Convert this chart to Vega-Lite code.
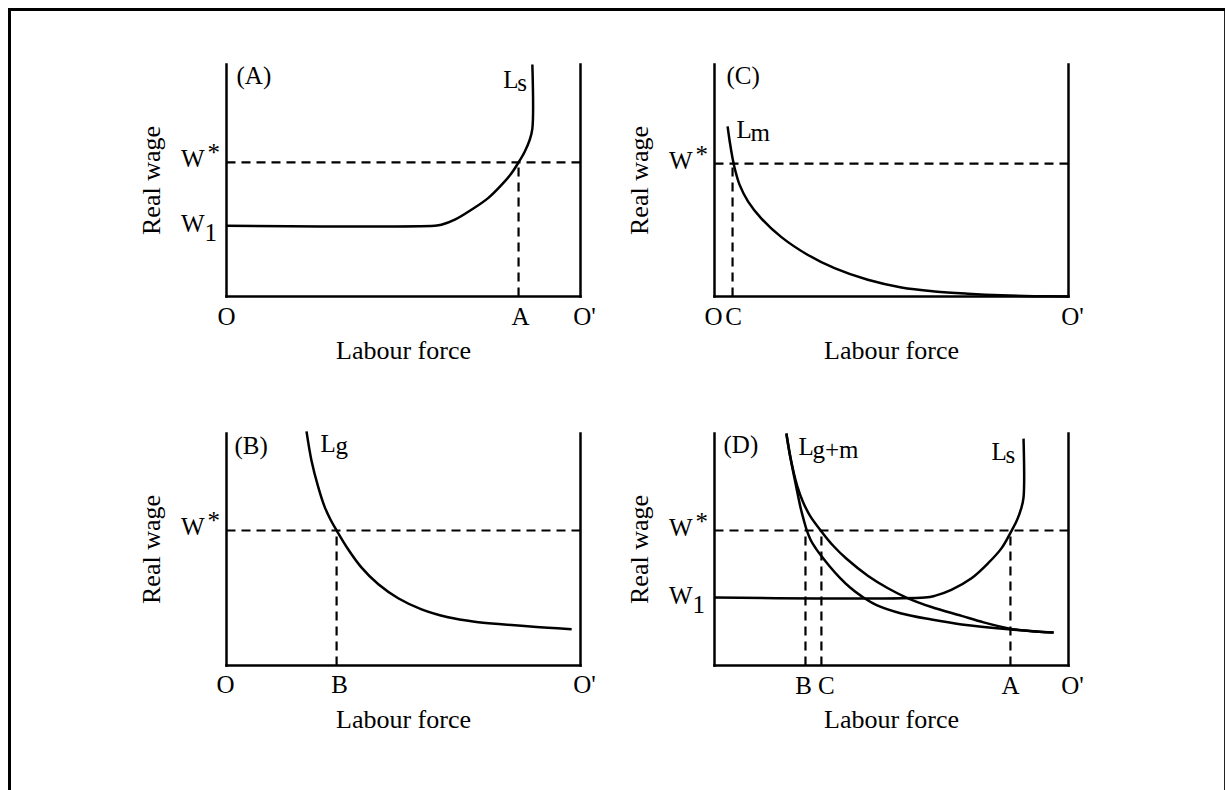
{
  "$schema": "https://vega.github.io/schema/vega-lite/v6.json",
  "padding": {"left": 6.5, "top": 6.5, "right": 0, "bottom": 0},
  "background": "white",
  "config": {
    "view": {"stroke": null},
    "axis": {"disable": true},
    "text": {"font": "Liberation Serif", "fontSize": 25, "baseline": "alphabetic", "color": "black"},
    "rule": {"color": "black", "strokeWidth": 2.5, "strokeCap": "square"},
    "line": {"color": "black", "strokeWidth": 2.5, "interpolate": "catmull-rom"}
  },
  "columns": 2,
  "spacing": {"row": 137, "column": 134},
  "bounds": "flush",
  "concat": [
        {
          "width": 354, "height": 232,
          "data": {"values": [{}]},
          "layer": [
            {
              "data": {"values": [
                {"x": 0, "y": 30.5}, {"x": 58.8, "y": 30.5}, {"x": 60.7, "y": 30.9}, {"x": 64.5, "y": 33.1},
                {"x": 69.2, "y": 37.4}, {"x": 73.9, "y": 42.4}, {"x": 77.7, "y": 48.1}, {"x": 80.5, "y": 53.1},
                {"x": 82.5, "y": 57.8}, {"x": 84.2, "y": 62.3}, {"x": 85.6, "y": 67.3}, {"x": 86.4, "y": 72.4},
                {"x": 86.4, "y": 100}
              ]},
              "mark": {"type": "line"},
              "encoding": {
                "x": {"field": "x", "type": "quantitative", "scale": {"domain": [0, 100]}},
                "y": {"field": "y", "type": "quantitative", "scale": {"domain": [0, 100]}},
                "order": {"value": null}
              }
            },
            {"mark": {"type": "rule", "strokeWidth": 3}, "encoding": {"x": {"datum": -61.3}, "x2": {"datum": 282.1}, "y": {"datum": 123.7}}},
            {"mark": {"type": "rule", "strokeWidth": 3}, "encoding": {"x": {"datum": -61.3}, "y": {"datum": 123.7}, "y2": {"datum": -213.4}}},
            {"mark": {"type": "rule", "strokeWidth": 2}, "encoding": {"x": {"datum": 282.1}, "y": {"datum": 123.7}, "y2": {"datum": -213.4}}},
            {"mark": "rule", "encoding": {"x": {"datum": 0}, "y": {"datum": 0}, "y2": {"datum": 100}}},
            {"mark": "rule", "encoding": {"x": {"datum": 100}, "y": {"datum": 0}, "y2": {"datum": 100}}},
            {"mark": "rule", "encoding": {"x": {"datum": 0}, "x2": {"datum": 100}, "y": {"datum": 0}}},
            {"mark": {"type": "rule", "strokeDash": [9, 6], "strokeWidth": 2.2, "strokeCap": "butt"}, "encoding": {"x": {"datum": 0}, "x2": {"datum": 100}, "y": {"datum": 57.8}}},
            {"mark": {"type": "rule", "strokeDash": [9, 6], "strokeWidth": 2.2, "strokeCap": "butt"}, "encoding": {"x": {"datum": 82.5}, "y": {"datum": 0}, "y2": {"datum": 57.8}}},
            {"mark": {"type": "text", "align": "left", "dx": 10, "dy": 19}, "encoding": {"x": {"datum": 0}, "y": {"datum": 100}, "text": {"value": "(A)"}}},
            {"mark": {"type": "text", "align": "left", "dx": -29, "dy": 23}, "encoding": {"x": {"datum": 86.4}, "y": {"datum": 100}, "text": {"value": "L"}}},
            {"mark": {"type": "text", "align": "left", "dx": -15, "dy": 26}, "encoding": {"x": {"datum": 86.4}, "y": {"datum": 100}, "text": {"value": "s"}}},
            {"mark": {"type": "text", "align": "right", "dx": -22, "dy": 5}, "encoding": {"x": {"datum": 0}, "y": {"datum": 57.8}, "text": {"value": "W"}}},
            {"mark": {"type": "text", "align": "left", "dx": -19, "dy": -1}, "encoding": {"x": {"datum": 0}, "y": {"datum": 57.8}, "text": {"value": "*"}}},
            {"mark": {"type": "text", "align": "right", "dx": -22, "dy": 6}, "encoding": {"x": {"datum": 0}, "y": {"datum": 30.5}, "text": {"value": "W"}}},
            {"mark": {"type": "text", "align": "left", "dx": -22, "dy": 15}, "encoding": {"x": {"datum": 0}, "y": {"datum": 30.5}, "text": {"value": "1"}}},
            {"mark": {"type": "text", "align": "center", "angle": 270, "dy": -67, "fontSize": 26}, "encoding": {"x": {"datum": 0}, "y": {"datum": 50}, "text": {"value": "Real wage"}}},
            {"mark": {"type": "text", "align": "center", "dy": 62, "fontSize": 26}, "encoding": {"x": {"datum": 50}, "y": {"datum": 0}, "text": {"value": "Labour force"}}},
            {"mark": {"type": "text", "align": "center", "dy": 28}, "encoding": {"x": {"datum": 0}, "y": {"datum": 0}, "text": {"value": "O"}}},
            {"mark": {"type": "text", "align": "center", "dx": 2, "dy": 28}, "encoding": {"x": {"datum": 82.5}, "y": {"datum": 0}, "text": {"value": "A"}}},
            {"mark": {"type": "text", "align": "center", "dx": 4, "dy": 28}, "encoding": {"x": {"datum": 100}, "y": {"datum": 0}, "text": {"value": "O'"}}}
          ]
        },
        {
          "width": 354, "height": 232,
          "data": {"values": [{}]},
          "layer": [
            {
              "data": {"values": [
                {"x": 3.7, "y": 73.3}, {"x": 4.3, "y": 66.8}, {"x": 5.1, "y": 59.6}, {"x": 5.7, "y": 55.3},
                {"x": 7.1, "y": 48.1}, {"x": 9.5, "y": 40.9}, {"x": 13.2, "y": 33.7}, {"x": 18.9, "y": 25.6},
                {"x": 26.4, "y": 17.9}, {"x": 33.9, "y": 12.2}, {"x": 43.3, "y": 7.2}, {"x": 52.8, "y": 3.9},
                {"x": 62.2, "y": 2.2}, {"x": 71.6, "y": 1.2}, {"x": 81, "y": 0.5}, {"x": 90.4, "y": 0.15},
                {"x": 99.9, "y": 0}
              ]},
              "mark": {"type": "line"},
              "encoding": {
                "x": {"field": "x", "type": "quantitative", "scale": {"domain": [0, 100]}},
                "y": {"field": "y", "type": "quantitative", "scale": {"domain": [0, 100]}},
                "order": {"value": null}
              }
            },
            {"mark": "rule", "encoding": {"x": {"datum": 0}, "y": {"datum": 0}, "y2": {"datum": 100}}},
            {"mark": "rule", "encoding": {"x": {"datum": 100}, "y": {"datum": 0}, "y2": {"datum": 100}}},
            {"mark": "rule", "encoding": {"x": {"datum": 0}, "x2": {"datum": 100}, "y": {"datum": 0}}},
            {"mark": {"type": "rule", "strokeDash": [9, 6], "strokeWidth": 2.2, "strokeCap": "butt"}, "encoding": {"x": {"datum": 0}, "x2": {"datum": 100}, "y": {"datum": 57.3}}},
            {"mark": {"type": "rule", "strokeDash": [9, 6], "strokeWidth": 2.2, "strokeCap": "butt"}, "encoding": {"x": {"datum": 5.1}, "y": {"datum": 0}, "y2": {"datum": 57.3}}},
            {"mark": {"type": "text", "align": "left", "dx": 12, "dy": 19}, "encoding": {"x": {"datum": 0}, "y": {"datum": 100}, "text": {"value": "(C)"}}},
            {"mark": {"type": "text", "align": "left", "dx": 22, "dy": 73}, "encoding": {"x": {"datum": 0}, "y": {"datum": 100}, "text": {"value": "L"}}},
            {"mark": {"type": "text", "align": "left", "dx": 36, "dy": 76}, "encoding": {"x": {"datum": 0}, "y": {"datum": 100}, "text": {"value": "m"}}},
            {"mark": {"type": "text", "align": "right", "dx": -22, "dy": 5}, "encoding": {"x": {"datum": 0}, "y": {"datum": 57.3}, "text": {"value": "W"}}},
            {"mark": {"type": "text", "align": "left", "dx": -19, "dy": -1}, "encoding": {"x": {"datum": 0}, "y": {"datum": 57.3}, "text": {"value": "*"}}},
            {"mark": {"type": "text", "align": "center", "angle": 270, "dy": -67, "fontSize": 26}, "encoding": {"x": {"datum": 0}, "y": {"datum": 50}, "text": {"value": "Real wage"}}},
            {"mark": {"type": "text", "align": "center", "dy": 62, "fontSize": 26}, "encoding": {"x": {"datum": 50}, "y": {"datum": 0}, "text": {"value": "Labour force"}}},
            {"mark": {"type": "text", "align": "center", "dx": -1, "dy": 28}, "encoding": {"x": {"datum": 0}, "y": {"datum": 0}, "text": {"value": "O"}}},
            {"mark": {"type": "text", "align": "center", "dx": 1, "dy": 28}, "encoding": {"x": {"datum": 5.1}, "y": {"datum": 0}, "text": {"value": "C"}}},
            {"mark": {"type": "text", "align": "center", "dx": 4, "dy": 28}, "encoding": {"x": {"datum": 100}, "y": {"datum": 0}, "text": {"value": "O'"}}}
          ]
        },
        {
          "width": 354, "height": 232,
          "data": {"values": [{}]},
          "layer": [
            {
              "data": {"values": [
                {"x": 22.6, "y": 100.9}, {"x": 24.0, "y": 88.4}, {"x": 25.9, "y": 77.0}, {"x": 27.7, "y": 68.5},
                {"x": 29.4, "y": 62.8}, {"x": 31.1, "y": 58.2}, {"x": 34.4, "y": 50.0}, {"x": 38.1, "y": 42.3},
                {"x": 42.9, "y": 35.0}, {"x": 48.5, "y": 29.0}, {"x": 55.1, "y": 24.2}, {"x": 62.6, "y": 20.8},
                {"x": 70.1, "y": 18.9}, {"x": 77.7, "y": 17.8}, {"x": 83.3, "y": 17.1}, {"x": 90.8, "y": 16.3},
                {"x": 97.5, "y": 15.6}
              ]},
              "mark": {"type": "line"},
              "encoding": {
                "x": {"field": "x", "type": "quantitative", "scale": {"domain": [0, 100]}},
                "y": {"field": "y", "type": "quantitative", "scale": {"domain": [0, 100]}},
                "order": {"value": null}
              }
            },
            {"mark": "rule", "encoding": {"x": {"datum": 0}, "y": {"datum": 0}, "y2": {"datum": 100}}},
            {"mark": "rule", "encoding": {"x": {"datum": 100}, "y": {"datum": 0}, "y2": {"datum": 100}}},
            {"mark": "rule", "encoding": {"x": {"datum": 0}, "x2": {"datum": 100}, "y": {"datum": 0}}},
            {"mark": {"type": "rule", "strokeDash": [9, 6], "strokeWidth": 2.2, "strokeCap": "butt"}, "encoding": {"x": {"datum": 0}, "x2": {"datum": 100}, "y": {"datum": 58.2}}},
            {"mark": {"type": "rule", "strokeDash": [9, 6], "strokeWidth": 2.2, "strokeCap": "butt"}, "encoding": {"x": {"datum": 31.1}, "y": {"datum": 0}, "y2": {"datum": 58.2}}},
            {"mark": {"type": "text", "align": "left", "dx": 8, "dy": 20}, "encoding": {"x": {"datum": 0}, "y": {"datum": 100}, "text": {"value": "(B)"}}},
            {"mark": {"type": "text", "align": "left", "dx": 94, "dy": 18}, "encoding": {"x": {"datum": 0}, "y": {"datum": 100}, "text": {"value": "L"}}},
            {"mark": {"type": "text", "align": "left", "dx": 109, "dy": 20}, "encoding": {"x": {"datum": 0}, "y": {"datum": 100}, "text": {"value": "g"}}},
            {"mark": {"type": "text", "align": "right", "dx": -22, "dy": 5}, "encoding": {"x": {"datum": 0}, "y": {"datum": 58.2}, "text": {"value": "W"}}},
            {"mark": {"type": "text", "align": "left", "dx": -19, "dy": -1}, "encoding": {"x": {"datum": 0}, "y": {"datum": 58.2}, "text": {"value": "*"}}},
            {"mark": {"type": "text", "align": "center", "angle": 270, "dy": -67, "fontSize": 26}, "encoding": {"x": {"datum": 0}, "y": {"datum": 50}, "text": {"value": "Real wage"}}},
            {"mark": {"type": "text", "align": "center", "dy": 62, "fontSize": 26}, "encoding": {"x": {"datum": 50}, "y": {"datum": 0}, "text": {"value": "Labour force"}}},
            {"mark": {"type": "text", "align": "center", "dx": -1, "dy": 27}, "encoding": {"x": {"datum": 0}, "y": {"datum": 0}, "text": {"value": "O"}}},
            {"mark": {"type": "text", "align": "center", "dx": 3, "dy": 27}, "encoding": {"x": {"datum": 31.1}, "y": {"datum": 0}, "text": {"value": "B"}}},
            {"mark": {"type": "text", "align": "center", "dx": 4, "dy": 27}, "encoding": {"x": {"datum": 100}, "y": {"datum": 0}, "text": {"value": "O'"}}}
          ]
        },
        {
          "width": 354, "height": 232,
          "data": {"values": [{}]},
          "layer": [
            {
              "data": {"values": [
                {"curve": "Ls", "x": 0, "y": 29.3}, {"curve": "Ls", "x": 59.4, "y": 29.3}, {"curve": "Ls", "x": 62.2, "y": 30.0},
                {"curve": "Ls", "x": 66.9, "y": 32.6}, {"curve": "Ls", "x": 72.6, "y": 37.6}, {"curve": "Ls", "x": 77.3, "y": 44.1},
                {"curve": "Ls", "x": 81.1, "y": 50.6}, {"curve": "Ls", "x": 83.6, "y": 57.2}, {"curve": "Ls", "x": 85.4, "y": 62.5},
                {"curve": "Ls", "x": 86.6, "y": 67.5}, {"curve": "Ls", "x": 87.3, "y": 72.5}, {"curve": "Ls", "x": 87.3, "y": 97.8},
                {"curve": "Lg", "x": 20.3, "y": 100}, {"curve": "Lg", "x": 21.5, "y": 89.2}, {"curve": "Lg", "x": 22.9, "y": 78.4},
                {"curve": "Lg", "x": 24.3, "y": 68.1}, {"curve": "Lg", "x": 25.2, "y": 62.8}, {"curve": "Lg", "x": 26.0, "y": 58.6},
                {"curve": "Lg", "x": 27.2, "y": 54.0}, {"curve": "Lg", "x": 28.6, "y": 50.5}, {"curve": "Lg", "x": 30.2, "y": 47.2},
                {"curve": "Lg", "x": 32.5, "y": 42.8}, {"curve": "Lg", "x": 35.3, "y": 38.0}, {"curve": "Lg", "x": 38.3, "y": 33.6},
                {"curve": "Lg", "x": 41.5, "y": 29.9}, {"curve": "Lg", "x": 45.8, "y": 26.0}, {"curve": "Lg", "x": 52.8, "y": 22.4},
                {"curve": "Lg", "x": 61.3, "y": 19.8}, {"curve": "Lg", "x": 69.8, "y": 17.7}, {"curve": "Lg", "x": 83.1, "y": 15.6},
                {"curve": "Lg", "x": 95.8, "y": 14.2},
                {"curve": "Lg+m", "x": 20.3, "y": 100}, {"curve": "Lg+m", "x": 21.5, "y": 89.2}, {"curve": "Lg+m", "x": 23.4, "y": 77.2},
                {"curve": "Lg+m", "x": 25.0, "y": 70.5}, {"curve": "Lg+m", "x": 27.0, "y": 64.5}, {"curve": "Lg+m", "x": 30.2, "y": 57.8},
                {"curve": "Lg+m", "x": 33.6, "y": 51.5}, {"curve": "Lg+m", "x": 37.3, "y": 46.0}, {"curve": "Lg+m", "x": 43.4, "y": 38.6},
                {"curve": "Lg+m", "x": 49.0, "y": 33.3}, {"curve": "Lg+m", "x": 54.2, "y": 29.3}, {"curve": "Lg+m", "x": 61.3, "y": 25.2},
                {"curve": "Lg+m", "x": 69.8, "y": 21.4}, {"curve": "Lg+m", "x": 76.0, "y": 18.6}, {"curve": "Lg+m", "x": 83.1, "y": 16.0},
                {"curve": "Lg+m", "x": 89.0, "y": 14.9}, {"curve": "Lg+m", "x": 95.8, "y": 14.2}
              ]},
              "mark": {"type": "line"},
              "encoding": {
                "x": {"field": "x", "type": "quantitative", "scale": {"domain": [0, 100]}},
                "y": {"field": "y", "type": "quantitative", "scale": {"domain": [0, 100]}},
                "detail": {"field": "curve", "type": "nominal"},
                "order": {"value": null}
              }
            },
            {"mark": "rule", "encoding": {"x": {"datum": 0}, "y": {"datum": 0}, "y2": {"datum": 100}}},
            {"mark": "rule", "encoding": {"x": {"datum": 100}, "y": {"datum": 0}, "y2": {"datum": 100}}},
            {"mark": "rule", "encoding": {"x": {"datum": 0}, "x2": {"datum": 100}, "y": {"datum": 0}}},
            {"mark": {"type": "rule", "strokeDash": [9, 6], "strokeWidth": 2.2, "strokeCap": "butt"}, "encoding": {"x": {"datum": 0}, "x2": {"datum": 100}, "y": {"datum": 58.2}}},
            {"mark": {"type": "rule", "strokeDash": [9, 6], "strokeWidth": 2.2, "strokeCap": "butt"}, "encoding": {"x": {"datum": 25.7}, "y": {"datum": 0}, "y2": {"datum": 58.2}}},
            {"mark": {"type": "rule", "strokeDash": [9, 6], "strokeWidth": 2.2, "strokeCap": "butt"}, "encoding": {"x": {"datum": 30.2}, "y": {"datum": 0}, "y2": {"datum": 58.2}}},
            {"mark": {"type": "rule", "strokeDash": [9, 6], "strokeWidth": 2.2, "strokeCap": "butt"}, "encoding": {"x": {"datum": 83.6}, "y": {"datum": 0}, "y2": {"datum": 58.2}}},
            {"mark": {"type": "text", "align": "left", "dx": 9, "dy": 19}, "encoding": {"x": {"datum": 0}, "y": {"datum": 100}, "text": {"value": "(D)"}}},
            {"mark": {"type": "text", "align": "left", "dx": 84, "dy": 21}, "encoding": {"x": {"datum": 0}, "y": {"datum": 100}, "text": {"value": "L"}}},
            {"mark": {"type": "text", "align": "left", "dx": 98, "dy": 24}, "encoding": {"x": {"datum": 0}, "y": {"datum": 100}, "text": {"value": "g+m"}}},
            {"mark": {"type": "text", "align": "left", "dx": -32, "dy": 26}, "encoding": {"x": {"datum": 87.3}, "y": {"datum": 100}, "text": {"value": "L"}}},
            {"mark": {"type": "text", "align": "left", "dx": -18, "dy": 29}, "encoding": {"x": {"datum": 87.3}, "y": {"datum": 100}, "text": {"value": "s"}}},
            {"mark": {"type": "text", "align": "right", "dx": -22, "dy": 6}, "encoding": {"x": {"datum": 0}, "y": {"datum": 58.2}, "text": {"value": "W"}}},
            {"mark": {"type": "text", "align": "left", "dx": -19, "dy": 0}, "encoding": {"x": {"datum": 0}, "y": {"datum": 58.2}, "text": {"value": "*"}}},
            {"mark": {"type": "text", "align": "right", "dx": -22, "dy": 6}, "encoding": {"x": {"datum": 0}, "y": {"datum": 29.3}, "text": {"value": "W"}}},
            {"mark": {"type": "text", "align": "left", "dx": -22, "dy": 15}, "encoding": {"x": {"datum": 0}, "y": {"datum": 29.3}, "text": {"value": "1"}}},
            {"mark": {"type": "text", "align": "center", "angle": 270, "dy": -67, "fontSize": 26}, "encoding": {"x": {"datum": 0}, "y": {"datum": 50}, "text": {"value": "Real wage"}}},
            {"mark": {"type": "text", "align": "center", "dy": 62, "fontSize": 26}, "encoding": {"x": {"datum": 50}, "y": {"datum": 0}, "text": {"value": "Labour force"}}},
            {"mark": {"type": "text", "align": "center", "dx": -2, "dy": 28}, "encoding": {"x": {"datum": 25.7}, "y": {"datum": 0}, "text": {"value": "B"}}},
            {"mark": {"type": "text", "align": "center", "dx": 5, "dy": 28}, "encoding": {"x": {"datum": 30.2}, "y": {"datum": 0}, "text": {"value": "C"}}},
            {"mark": {"type": "text", "align": "center", "dx": 0, "dy": 28}, "encoding": {"x": {"datum": 83.6}, "y": {"datum": 0}, "text": {"value": "A"}}},
            {"mark": {"type": "text", "align": "center", "dx": 4, "dy": 28}, "encoding": {"x": {"datum": 100}, "y": {"datum": 0}, "text": {"value": "O'"}}}
          ]
        }
  ]
}
